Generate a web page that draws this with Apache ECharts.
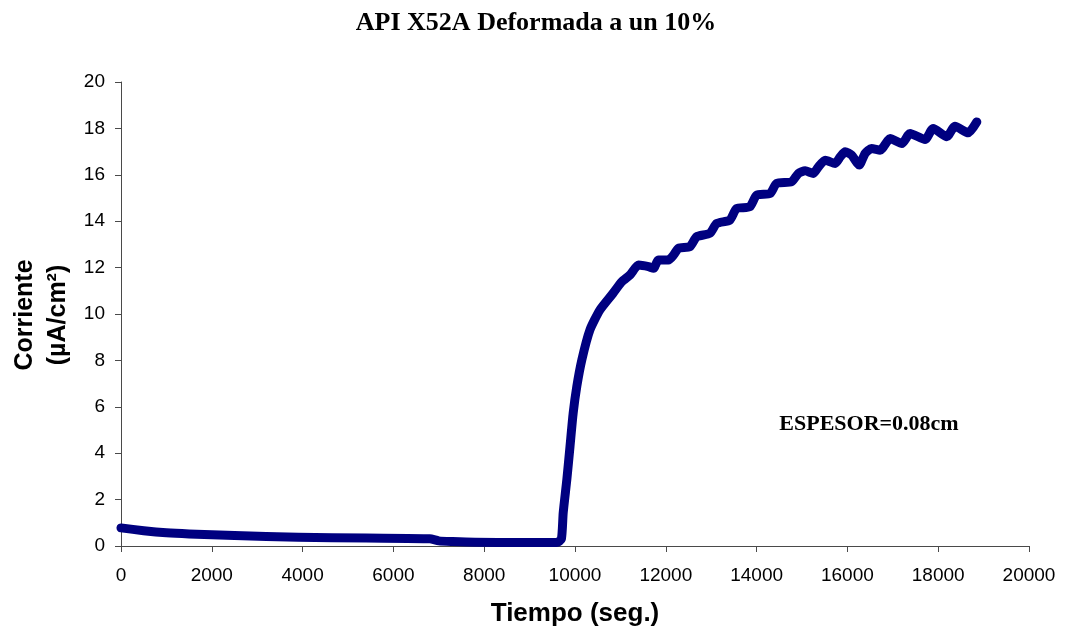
<!DOCTYPE html>
<html>
<head>
<meta charset="utf-8">
<script src="https://cdn.jsdelivr.net/npm/echarts@6/dist/echarts.min.js"></script>
<style>
  html, body { margin: 0; padding: 0; background: #fff; }
  #chart { width: 1073px; height: 636px; }
</style>
</head>
<body>
<div id="chart"></div>
<script>
// Permeation current transient, API X52A steel, 10% strain
const tiempo = [0, 500, 1000, 1500, 2500, 3900, 5400, 6800, 7000, 7300, 7800, 8800, 9600,
  9700, 9740, 9820, 9890, 9960, 10040, 10150, 10330, 10550, 10840, 11030, 11210, 11400,
  11620, 11730, 11840, 12060, 12170, 12280, 12530, 12680, 12970, 13120, 13410, 13560,
  13850, 14000, 14300, 14440, 14770, 14920, 15070, 15250, 15360, 15510, 15730, 15840,
  15950, 16090, 16260, 16390, 16530, 16720, 16940, 17200, 17380, 17710, 17890, 18190,
  18370, 18660, 18850];
const corriente = [0.78, 0.66, 0.57, 0.52, 0.45, 0.38, 0.34, 0.31, 0.22, 0.19, 0.16, 0.15, 0.15,
  0.30, 1.43, 2.86, 4.29, 5.73, 6.88, 8.02, 9.32, 10.18, 10.90, 11.39, 11.68, 12.11,
  12.04, 11.97, 12.33, 12.33, 12.54, 12.83, 12.90, 13.33, 13.48, 13.90, 14.05, 14.55,
  14.62, 15.12, 15.20, 15.63, 15.70, 16.06, 16.17, 16.06, 16.34, 16.63, 16.49, 16.77,
  16.99, 16.85, 16.42, 16.92, 17.13, 17.06, 17.56, 17.35, 17.78, 17.52, 18.00, 17.64,
  18.09, 17.81, 18.28];
const xTicks = [0, 2000, 4000, 6000, 8000, 10000, 12000, 14000, 16000, 18000, 20000];
const yTicks = [0, 2, 4, 6, 8, 10, 12, 14, 16, 18, 20];

const chart = echarts.init(document.getElementById('chart'), null, { renderer: 'canvas' });
const axisColor = '#4a4a4a';
const sans = 'Liberation Sans, Arial, sans-serif';
const serif = 'Liberation Serif, Times New Roman, serif';
const tickFont = { fontFamily: sans, fontSize: 19, color: '#000' };

chart.setOption({
  animation: false,
  backgroundColor: '#fff',
  title: {
    text: 'API X52A Deformada a un 10%',
    left: 531, top: 5, textAlign: 'center',
    textStyle: { fontFamily: serif, fontWeight: 'bold', fontSize: 26, color: '#000' }
  },
  grid: { left: 121, right: 44, top: 82, bottom: 90, containLabel: false },
  xAxis: {
    type: 'value',
    min: xTicks[0], max: xTicks[xTicks.length - 1], interval: 2000,
    name: 'Tiempo (seg.)', nameLocation: 'middle', nameGap: 55,
    nameTextStyle: { fontFamily: sans, fontWeight: 'bold', fontSize: 26, color: '#000' },
    axisLine: { show: true, onZero: false, lineStyle: { color: axisColor, width: 1 } },
    axisTick: { show: true, inside: false, length: 6, lineStyle: { color: axisColor } },
    axisLabel: Object.assign({ margin: 20, formatter: v => String(v) }, tickFont),
    splitLine: { show: false }
  },
  yAxis: {
    type: 'value',
    min: yTicks[0], max: yTicks[yTicks.length - 1], interval: 2,
    axisLine: { show: true, onZero: false, lineStyle: { color: axisColor, width: 1 } },
    axisTick: { show: true, inside: false, length: 6, lineStyle: { color: axisColor } },
    axisLabel: Object.assign({ margin: 16, formatter: v => String(v) }, tickFont),
    splitLine: { show: false }
  },
  graphic: [
    {
      type: 'text', x: 25, y: 315, rotation: Math.PI / 2,
      style: { text: 'Corriente', fill: '#000', font: 'bold 25px ' + sans,
        textAlign: 'center', textVerticalAlign: 'middle' }
    },
    {
      type: 'text', x: 58, y: 315, rotation: Math.PI / 2,
      style: { text: '(µA/cm²)', fill: '#000', font: 'bold 25px ' + sans,
        textAlign: 'center', textVerticalAlign: 'middle' }
    },
    {
      type: 'text', x: 869, y: 424,
      style: { text: 'ESPESOR=0.08cm', fill: '#000', font: 'bold 22px ' + serif,
        textAlign: 'center', textVerticalAlign: 'middle' }
    }
  ],
  series: [{
    type: 'line',
    data: tiempo.map((t, i) => [t, corriente[i]]),
    showSymbol: false,
    symbol: 'none',
    smooth: 0.2,
    lineStyle: { color: '#000080', width: 9, cap: 'round', join: 'round' },
    z: 3
  }]
});
</script>
</body>
</html>
